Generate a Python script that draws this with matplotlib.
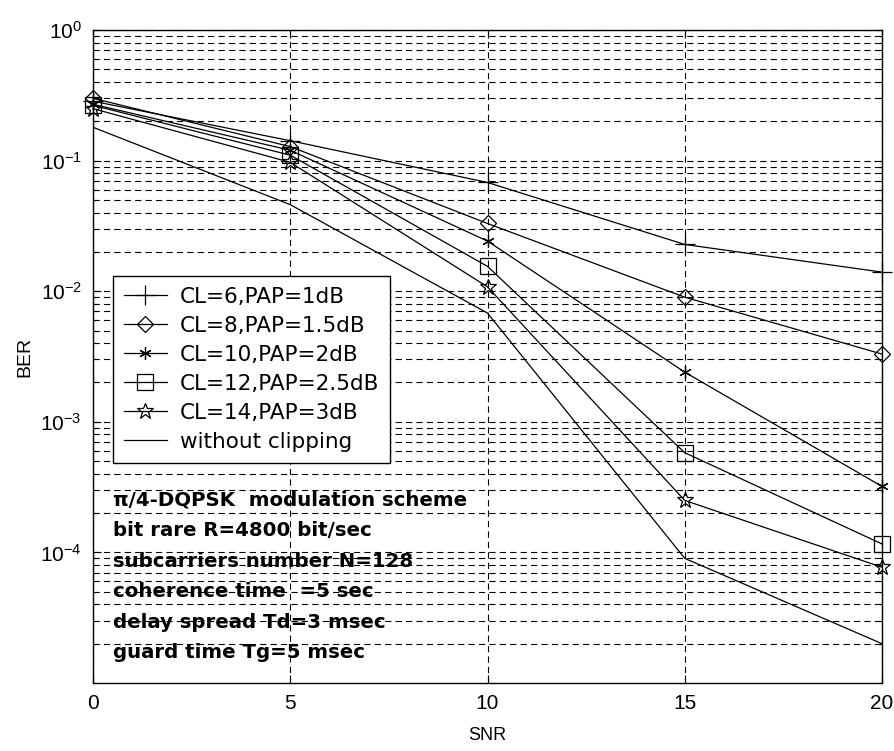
import numpy as np
import matplotlib
matplotlib.use("Agg")
import matplotlib.pyplot as plt
from matplotlib.ticker import LogLocator, FixedLocator, NullFormatter

plt.rcParams['font.family'] = ['Liberation Sans', 'DejaVu Sans']
plt.rcParams['mathtext.fontset'] = 'custom'
plt.rcParams['mathtext.rm'] = 'Liberation Sans'
plt.rcParams['mathtext.it'] = 'Liberation Sans'
plt.rcParams['lines.scale_dashes'] = False

# données
snr = [0, 5, 10, 15, 20]
ber_cl6 = [0.285, 0.142, 0.068, 0.0228, 0.014]
ber_cl8 = [0.30, 0.128, 0.033, 0.0090, 0.0033]
ber_cl10 = [0.27, 0.120, 0.0242, 0.0024, 0.00032]
ber_cl12 = [0.265, 0.110, 0.0155, 0.00058, 0.000116]
ber_cl14 = [0.25, 0.097, 0.0108, 0.00025, 0.000077]
ber_noclip = [0.18, 0.046, 0.0068, 0.00009, 0.00002]

labels = ["CL=6,PAP=1dB", "CL=8,PAP=1.5dB", "CL=10,PAP=2dB",
          "CL=12,PAP=2.5dB", "CL=14,PAP=3dB", "without clipping"]
infos = ["\u03c0/4-DQPSK  modulation scheme",
         "bit rare R=4800 bit/sec",
         "subcarriers number N=128",
         "coherence time  =5 sec",
         "delay spread Td=3 msec",
         "guard time Tg=5 msec"]

fig = plt.figure(figsize=(8.94, 7.51), dpi=100)
ax = fig.add_axes([93/894, 1-683/751, 789/894, 653/751])

kw = dict(color='k', lw=0.9, mfc='none', mec='k', mew=0.9, clip_on=False)
ax.semilogy(snr, ber_cl6, marker='+', ms=14, label=labels[0], **kw)
ax.semilogy(snr, ber_cl8, marker='D', ms=8, label=labels[1], **kw)
ax.semilogy(snr, ber_cl10, marker=(6, 2, 0), ms=9, label=labels[2], **kw)
ax.semilogy(snr, ber_cl12, marker='s', ms=11, label=labels[3], **kw)
ax.semilogy(snr, ber_cl14, marker='*', ms=12, label=labels[4], **kw)
ax.semilogy(snr, ber_noclip, label=labels[5], color='k', lw=0.9)

ax.set_xlim(0, 20)
ax.set_ylim(1e-5, 1)
ax.xaxis.set_major_locator(FixedLocator([0, 5, 10, 15, 20]))
ax.yaxis.set_major_locator(FixedLocator([1e-4, 1e-3, 1e-2, 1e-1, 1e0]))
ax.yaxis.set_minor_locator(LogLocator(base=10, subs=np.arange(2, 10)))
ax.yaxis.set_minor_formatter(NullFormatter())

ax.grid(True, which='both', axis='y', color='k', lw=0.8, linestyle=(0, (4.5, 3)))
ax.grid(True, which='major', axis='x', color='k', lw=0.8, linestyle=(0, (4.5, 3)))
ax.tick_params(which='both', direction='in', top=True, right=True, labelsize=15, width=0.8)
ax.tick_params(which='major', length=6, pad=8)
ax.tick_params(which='minor', length=3)
for s in ax.spines.values():
    s.set_linewidth(1.0)

ax.set_xlabel("SNR", fontsize=13, labelpad=10)
ax.set_ylabel("BER", fontsize=14, labelpad=5)

leg = ax.legend(loc='upper left', bbox_to_anchor=((113-93)/789, (683-276)/653),
                borderaxespad=0, fancybox=False, edgecolor='k', framealpha=1,
                prop={'family': 'DejaVu Sans', 'size': 15.5},
                handlelength=2.0, labelspacing=0.42, borderpad=0.5,
                handletextpad=0.6)
leg.get_frame().set_linewidth(1.0)

for i, t in enumerate(infos):
    y = 500 + i*30.6
    ax.text((113-93)/789, (683-y)/653, t, transform=ax.transAxes,
            family='DejaVu Sans', fontsize=14.2, fontweight='bold',
            va='center', ha='left')

plt.savefig("out.png", dpi=100)
